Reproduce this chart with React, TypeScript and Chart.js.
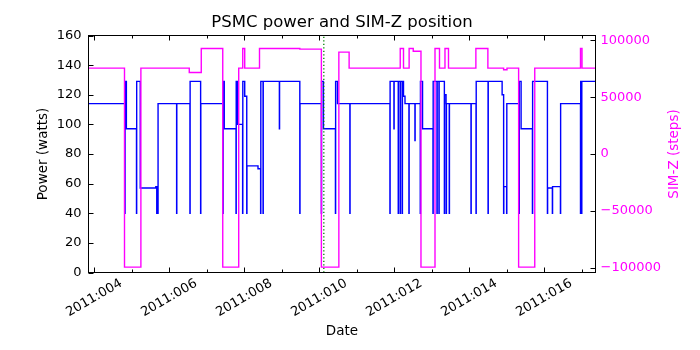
import React, { useEffect, useRef } from 'react';
import { Chart, registerables } from 'chart.js';

Chart.register(...registerables);

// ---- Data (day of year 2011, fractional) ----
const POWER_DAYS = [
  3.84, 4.82, 4.825, 4.86, 5.13, 5.135, 5.23, 5.645, 5.67, 5.675, 5.7, 5.705,
  6.2, 6.205, 6.555, 6.56, 6.84, 6.845, 7.435, 7.44, 7.47, 7.784, 7.789, 7.82,
  7.96, 7.965, 8.016, 8.07, 8.075, 8.37, 8.44, 8.445, 8.505, 8.51, 8.94, 8.945,
  9.485, 9.49, 10.06, 10.065, 10.115, 10.435, 10.44, 10.49, 10.82, 10.825,
  11.888, 11.893, 11.995, 12.0, 12.11, 12.115, 12.163, 12.168, 12.216, 12.221,
  12.25, 12.29, 12.395, 12.4, 12.555, 12.56, 12.697, 12.702, 12.758,
  13.036, 13.041, 13.143, 13.148, 13.196, 13.2, 13.34, 13.345, 13.385, 13.39, 13.395,
  13.47, 13.475, 14.05, 14.055, 14.184, 14.189, 14.505, 14.51, 14.88,
  14.92, 14.925, 15.0, 15.005, 15.333, 15.338, 15.386, 15.688, 15.693,
  16.088, 16.093, 16.22, 16.225, 16.435, 16.44, 16.97, 16.975, 17.0, 17.005, 17.4,
];
const POWER_WATTS = [
  114, 40, 129, 97, 40, 129, 57, 58, 40, 58, 40, 114,
  40, 114, 40, 129, 40, 114, 40, 129, 97, 40, 129, 100,
  40, 129, 119, 40, 72, 70, 40, 129, 40, 129, 97, 129,
  40, 114, 40, 129, 97, 40, 129, 114, 40, 114,
  40, 129, 97, 129, 40, 129, 40, 129, 40, 129,
  119, 114, 40, 114, 89, 114, 40, 129, 97,
  40, 129, 40, 129, 40, 129, 40, 120, 114, 40, 114,
  40, 114, 40, 114, 40, 129, 40, 129, 120,
  40, 58, 40, 114, 40, 129, 97, 40, 129,
  40, 57, 40, 58, 40, 114, 40, 129, 40, 129, 129,
];

const SIMZ_DAYS = [
  3.84, 4.81, 5.247, 6.537, 6.857, 7.43, 7.856, 7.963, 8.016, 8.41, 9.485,
  10.06, 10.526, 10.8, 12.163, 12.25, 12.4, 12.51, 12.716, 13.09, 13.21,
  13.356, 13.45, 14.18, 14.5, 14.92, 15.01, 15.32, 15.75, 16.97, 17.01, 17.4,
];
const SIMZ_STEPS = [
  75624, -99612, 75624, 71700, 92904, -99612, 75624, 92904, 75624, 92904, 92300,
  -99612, 89700, 75624, 92904, 75624, 92904, 90500, -99612, 92904, 75624,
  92904, 75624, 92904, 75624, 74100, 75624, -99612, 75624, 92904, 75624, 75624,
];

const NOW_DAY = 10.125;

const X_TICK_DAYS = [4, 6, 8, 10, 12, 14, 16];
const X_TICK_LABELS = ['2011:004', '2011:006', '2011:008', '2011:010', '2011:012', '2011:014', '2011:016'];
const POWER_TICKS = [0, 20, 40, 60, 80, 100, 120, 140, 160];
const SIMZ_TICKS = [-100000, -50000, 0, 50000, 100000];
const SIMZ_TICK_LABELS = ['\u2212100000', '\u221250000', '0', '50000', '100000'];

const X_MIN = 3.85;
const X_MAX = 17.37;
const SIMZ_MIN = -104300;
const SIMZ_MAX = 104300;

const FONT = 'DejaVu Sans';
const MAGENTA = '#ff00ff';
const TICK_FONT_SIZE = 13;

const framePlugin = {
  id: 'framePlugin',
  afterDatasetsDraw(chart: any) {
    const { ctx, chartArea } = chart;
    const { left, right, top, bottom } = chartArea;
    const xs = chart.scales.x;
    const ys = chart.scales.y;
    const y1 = chart.scales.y1;
    ctx.save();
    ctx.strokeStyle = '#000';
    ctx.lineWidth = 1;
    ctx.beginPath();
    // x ticks (major at even days, minor at odd days), bottom and top, pointing inward
    for (let d = Math.ceil(xs.min); d <= xs.max; d++) {
      const px = Math.round(xs.getPixelForValue(d)) + 0.5;
      const len = d % 2 === 0 ? 5 : 3;
      ctx.moveTo(px, bottom);
      ctx.lineTo(px, bottom - len);
      ctx.moveTo(px, top);
      ctx.lineTo(px, top + len);
    }
    for (const t of ys.ticks) {
      const py = Math.round(ys.getPixelForValue(t.value)) + 0.5;
      ctx.moveTo(left, py);
      ctx.lineTo(left + 5, py);
    }
    for (const t of y1.ticks) {
      const py = Math.round(y1.getPixelForValue(t.value)) + 0.5;
      ctx.moveTo(right, py);
      ctx.lineTo(right - 5, py);
    }
    ctx.stroke();
    ctx.strokeRect(left, top, right - left, bottom - top);
    // right axis title, reading bottom-to-top
    const title = y1.options.title;
    ctx.fillStyle = MAGENTA;
    ctx.font = `13.5px "${FONT}"`;
    ctx.textAlign = 'center';
    ctx.textBaseline = 'middle';
    ctx.translate(674, (top + bottom) / 2);
    ctx.rotate(-Math.PI / 2);
    ctx.fillText(title.text, 0, 0);
    ctx.restore();
  },
};

export default function App() {
  const canvasRef = useRef<HTMLCanvasElement | null>(null);

  useEffect(() => {
    const canvas = canvasRef.current;
    if (!canvas) return;
    Chart.defaults.font.family = FONT;
    const powerData = POWER_DAYS.map((x, i) => ({ x, y: POWER_WATTS[i] }));
    const simzData = SIMZ_DAYS.map((x, i) => ({ x, y: SIMZ_STEPS[i] }));
    const nowData = [
      { x: NOW_DAY, y: 0 },
      { x: NOW_DAY, y: 160 },
    ];

    const chart = new Chart(canvas, {
      type: 'line',
      data: {
        datasets: [
          {
            label: 'SIM-Z',
            data: simzData,
            yAxisID: 'y1',
            borderColor: MAGENTA,
            borderWidth: 1.4,
            stepped: 'before',
            pointRadius: 0,
            fill: false,
          },
          {
            label: 'now',
            data: nowData,
            yAxisID: 'y',
            borderColor: '#008000',
            borderWidth: 1.3,
            borderDash: [1.3, 2.2],
            pointRadius: 0,
            fill: false,
          },
          {
            label: 'PSMC power',
            data: powerData,
            yAxisID: 'y',
            borderColor: '#0000ff',
            borderWidth: 1.4,
            stepped: 'before',
            pointRadius: 0,
            fill: false,
          },
        ],
      },
      options: {
        responsive: false,
        animation: false,
        devicePixelRatio: 1,
        layout: { padding: 0 },
        plugins: {
          legend: { display: false },
          tooltip: { enabled: false },
          title: {
            display: true,
            fullSize: false,
            text: 'PSMC power and SIM-Z position',
            color: '#000',
            font: { family: FONT, size: 16.5, weight: 'normal' },
            padding: { top: 12.8, bottom: 2.9 },
          },
        },
        scales: {
          x: {
            type: 'linear',
            position: 'bottom',
            min: X_MIN,
            max: X_MAX,
            grid: { display: false, drawTicks: false },
            border: { display: false },
            afterBuildTicks: (s: any) => {
              s.ticks = X_TICK_DAYS.map((v) => ({ value: v }));
            },
            afterFit: (s: any) => {
              s.height = 77.5;
            },
            ticks: {
              autoSkip: false,
              minRotation: 30,
              maxRotation: 30,
              padding: 3.2,
              labelOffset: 27,
              color: '#000',
              font: { family: FONT, size: TICK_FONT_SIZE },
              callback: (v: any) => {
                const i = X_TICK_DAYS.indexOf(Number(v));
                return i >= 0 ? X_TICK_LABELS[i] : '';
              },
            },
            title: {
              display: true,
              text: 'Date',
              color: '#000',
              font: { family: FONT, size: 13.5 },
              padding: { top: 0, bottom: 10.9 },
            },
          },
          y: {
            type: 'linear',
            position: 'left',
            min: 0,
            max: 160,
            grid: { display: false, drawTicks: false },
            border: { display: false },
            afterBuildTicks: (s: any) => {
              s.ticks = POWER_TICKS.map((v) => ({ value: v }));
            },
            afterFit: (s: any) => {
              s.width = 88.5;
            },
            ticks: {
              padding: 7,
              color: '#000',
              font: { family: FONT, size: TICK_FONT_SIZE },
              callback: (v: any) => String(v),
            },
            title: {
              display: true,
              text: 'Power (watts)',
              color: '#000',
              font: { family: FONT, size: 13.5 },
              padding: { top: 35.4, bottom: 0 },
            },
          },
          y1: {
            type: 'linear',
            position: 'right',
            min: SIMZ_MIN,
            max: SIMZ_MAX,
            grid: { display: false, drawTicks: false },
            border: { display: false },
            afterBuildTicks: (s: any) => {
              s.ticks = SIMZ_TICKS.map((v) => ({ value: v }));
            },
            afterFit: (s: any) => {
              s.width = 104.5;
            },
            ticks: {
              padding: 5,
              color: MAGENTA,
              font: { family: FONT, size: TICK_FONT_SIZE },
              callback: (v: any) => {
                const i = SIMZ_TICKS.indexOf(Number(v));
                return i >= 0 ? SIMZ_TICK_LABELS[i] : String(v);
              },
            },
            title: {
              display: false,
              text: 'SIM-Z (steps)',
              color: MAGENTA,
            },
          },
        },
      },
      plugins: [framePlugin],
    });

    return () => {
      chart.destroy();
    };
  }, []);

  return (
    <div style={{ position: 'absolute', left: 0, top: 0, width: 700, height: 350, background: '#fff' }}>
      <canvas ref={canvasRef} width={700} height={350} style={{ width: 700, height: 350, display: 'block' }} />
    </div>
  );
}
